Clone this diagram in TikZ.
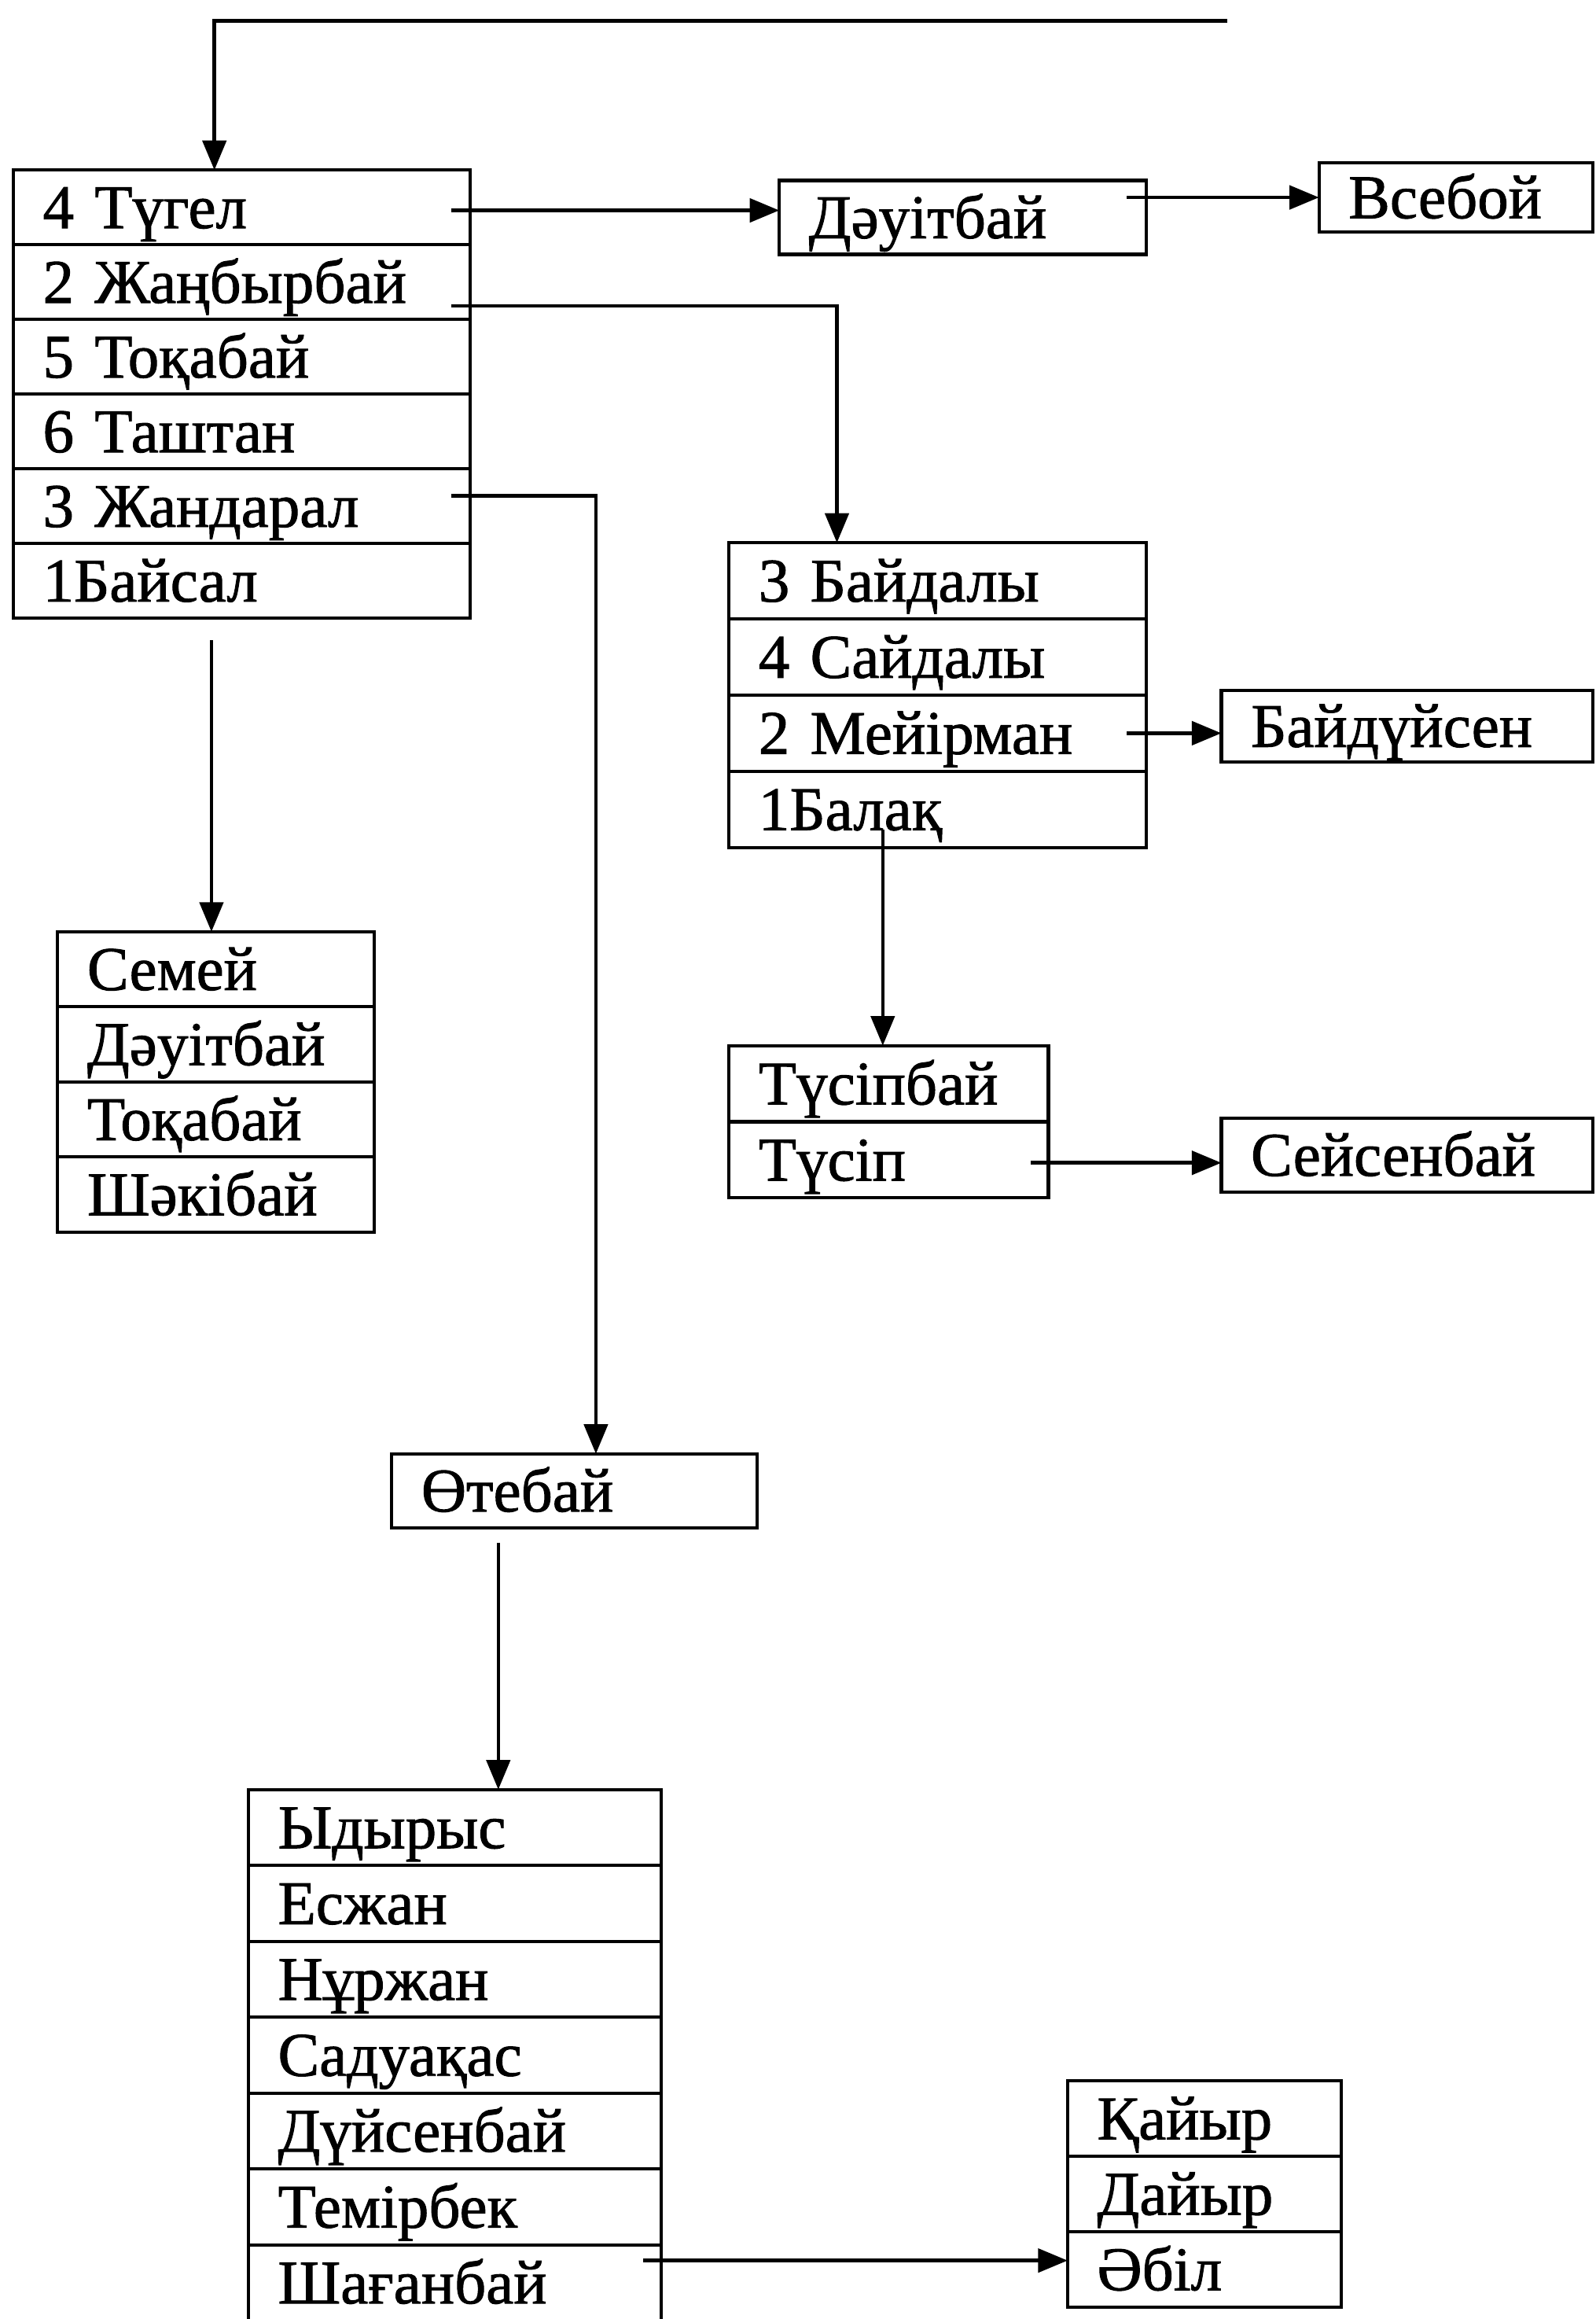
\documentclass[tikz,border=0pt]{standalone}
\usepackage{fontspec}
\setmainfont{Liberation Serif}
\newfontfamily\heavyserif{Liberation Serif}[FakeBold=1.2]
\usetikzlibrary{arrows.meta,calc}
\begin{document}
\begin{tikzpicture}[x=0.5pt,y=-0.5pt,
  cell/.style={draw, line width=1.1pt, anchor=north west, outer sep=0pt, inner ysep=0pt, inner xsep=10pt,
    align=left, font=\heavyserif\fontsize{21}{25}\selectfont, text height=16pt, text depth=2pt},
  bA/.style={cell, text width=134.5pt, minimum height=25.25pt},
  bDa/.style={cell, text width=104pt, minimum height=25pt},
  bVs/.style={cell, text width=72.5pt, minimum height=23.5pt},
  bB/.style={cell, text width=121pt, minimum height=25.75pt},
  bBd/.style={cell, text width=105.5pt, minimum height=24pt},
  bC/.style={cell, text width=88pt, minimum height=25.75pt},
  bSe/.style={cell, text width=105.5pt, minimum height=25pt},
  bD/.style={cell, text width=87pt, minimum height=25.375pt},
  bOt/.style={cell, text width=103.5pt, minimum height=25pt},
  bE/.style={cell, text width=119.5pt, minimum height=25.65pt},
  bF/.style={cell, text width=72.5pt, minimum height=25.5pt},
  arr/.style={line width=1.2pt, -{Triangle[length=10pt,width=8pt]}},
  edge/.style={line width=1.1pt}]
\useasboundingbox (0,0) rectangle (1079,1568);

% box 1
\node[bA] (r1a) at (9,115) {4 Түгел};
\node[bA] (r1b) at (9,165.5) {2 Жаңбырбай};
\node[bA] (r1c) at (9,216) {5 Тоқабай};
\node[bA] (r1d) at (9,266.5) {6 Таштан};
\node[bA] (r1e) at (9,317) {3 Жандарал};
\node[bA] (r1f) at (9,367.5) {1Байсал};

\node[bDa] (dauit) at (527,122) {Дәуітбай};
\node[bVs] (vseb) at (892,110) {Всебой};

% box 2
\node[bB] (b2a) at (493,367) {3 Байдалы};
\node[bB] (b2b) at (493,418.5) {4 Сайдалы};
\node[bB] (b2c) at (493,470) {2 Мейірман};
\node[bB] (b2d) at (493,521.5) {1Балақ};

\node[bBd] (baid) at (826,467) {Байдүйсен};

% box 3
\node[bC] (b3a) at (493,707) {Түсіпбай};
\node[bC] (b3b) at (493,758.5) {Түсіп};

\node[bSe] (seis) at (826,756) {Сейсенбай};

% box 4
\node[bD] (b4a) at (39,630) {Семей};
\node[bD] (b4b) at (39,680.75) {Дәуітбай};
\node[bD] (b4c) at (39,731.5) {Тоқабай};
\node[bD] (b4d) at (39,782.25) {Шәкібай};

\node[bOt] (oteb) at (265,983) {Өтебай};

% box 5 (cut off by the bottom edge)
\node[bE] (b5a) at (168,1210) {Ыдырыс};
\node[bE] (b5b) at (168,1261.3) {Есжан};
\node[bE] (b5c) at (168,1312.6) {Нұржан};
\node[bE] (b5d) at (168,1363.9) {Садуақас};
\node[bE] (b5e) at (168,1415.2) {Дүйсенбай};
\node[bE] (b5f) at (168,1466.5) {Темірбек};
\node[bE, draw=none] (b5g) at (168,1517.8) {Шағанбай};
\coordinate (bot) at (0,1568);
\draw[edge] (b5f.south west) -- (b5f.south west |- bot);
\draw[edge] (b5f.south east) -- (b5f.south east |- bot);

% box 6
\node[bF] (b6a) at (722,1407) {Қайыр};
\node[bF] (b6b) at (722,1458) {Дайыр};
\node[bF] (b6c) at (722,1509) {Әбіл};

% connectors
\coordinate (topstart) at (830,14);
\coordinate (t1) at (145,14);
\draw[arr] (topstart) -- (t1) -- (t1 |- r1a.north);

\draw[arr] ($(r1a.east)+(-13,2)$) -- ($(r1a.east -| dauit.west)+(0,2)$);
\draw[arr] ([xshift=-6.5pt]dauit.east |- vseb.west) -- (vseb.west);

\draw[arr] ($(r1b.east)+(-13,16)$) -| ($(b2a.north west)+(73,0)$);
\draw[arr] ($(b2c.east)+(-13,0)$) -- (b2c.east -| baid.west);

\coordinate (c6) at (597,561);
\draw[arr] (c6) -- (c6 |- b3a.north);
\draw[arr] ($(b3b.east)+(-12,2)$) -- ($(b3b.east -| seis.west)+(0,2)$);

\coordinate (c8) at (143,433);
\draw[arr] (c8) -- (c8 |- b4a.north);

\draw[arr] ($(r1e.east)+(-13,-7)$) -| ($(oteb.north)+(14.5,0)$);

\coordinate (c10) at (337,1043);
\draw[arr] (c10) -- (c10 |- b5a.north);

\coordinate (c11) at ($(b5g.east)+(-12,-15)$);
\draw[arr] (c11) -- (c11 -| b6c.west);
\end{tikzpicture}
\end{document}
